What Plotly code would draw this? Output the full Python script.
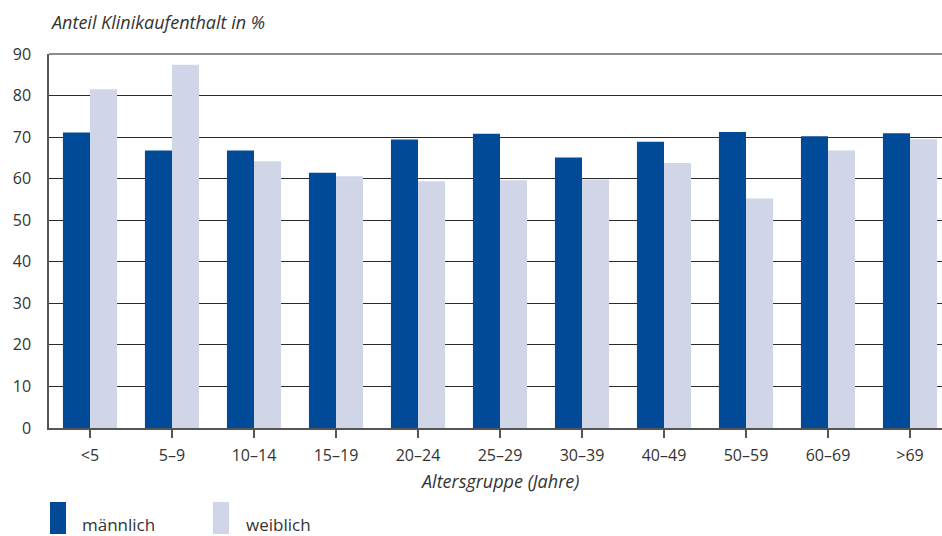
import plotly.graph_objects as go

categories = ["<5", "5–9", "10–14", "15–19", "20–24", "25–29", "30–39", "40–49", "50–59", "60–69", ">69"]
maennlich = [71.1, 66.8, 66.8, 61.4, 69.4, 70.8, 65.1, 68.9, 71.2, 70.2, 70.9]
weiblich = [81.5, 87.4, 64.2, 60.6, 59.4, 59.6, 59.8, 63.8, 55.2, 66.8, 69.5]
y_ticks = [0, 10, 20, 30, 40, 50, 60, 70, 80, 90]

COL_M = "#004A97"
COL_W = "#D0D5E8"
TXT = "#333333"
FONT = "Open Sans"

W, H = 942, 536
L, R, T, B = 49, 0, 54, 108
pw, ph = W - L - R, H - T - B

def px(x):
    return (x - L) / pw

def py(y):
    return (H - B - y) / ph

x_idx = list(range(len(categories)))

fig = go.Figure()
fig.add_trace(go.Bar(x=x_idx, y=maennlich, name="männlich", marker=dict(color=COL_M, line=dict(width=0)), showlegend=False))
fig.add_trace(go.Bar(x=x_idx, y=weiblich, name="weiblich", marker=dict(color=COL_W, line=dict(width=0)), showlegend=False))

cat_px = 82
fig.update_layout(
    width=W, height=H,
    margin=dict(l=L, r=R, t=T, b=B),
    paper_bgcolor="white", plot_bgcolor="white",
    barmode="group", bargap=0.34, bargroupgap=0,
    font=dict(family=FONT, color=TXT, size=15),
    xaxis=dict(
        range=[-0.5, -0.5 + pw / cat_px],
        tickmode="array", tickvals=x_idx, ticktext=categories,
        tickson="boundaries", ticks="outside", ticklen=8, tickcolor="#555555", tickwidth=1.5,
        showline=True, linecolor="#555555", linewidth=1.5,
        showgrid=False, zeroline=False,
        tickfont=dict(size=16, color=TXT),
        ticklabelstandoff=4,
    ),
    yaxis=dict(
        range=[0, 90],
        tickmode="array", tickvals=y_ticks,
        showline=True, linecolor="#555555", linewidth=1.5,
        showgrid=True, gridcolor="#2a2a2a", gridwidth=1,
        zeroline=False, ticks="",
        tickfont=dict(size=16, color=TXT),
        ticklabelstandoff=13,
    ),
    shapes=[
        dict(type="line", xref="paper", yref="paper", x0=0, x1=1, y0=1, y1=1,
             line=dict(color="#666666", width=1.5)),
        dict(type="rect", xref="paper", yref="paper", x0=px(50), x1=px(66), y0=py(502), y1=py(534),
             fillcolor=COL_M, line=dict(width=0)),
        dict(type="rect", xref="paper", yref="paper", x0=px(213), x1=px(229), y0=py(502), y1=py(534),
             fillcolor=COL_W, line=dict(width=0)),
    ],
    annotations=[
        dict(text="<i>Anteil Klinikaufenthalt in %</i>", xref="paper", yref="paper",
             x=px(48), y=py(22), xanchor="left", yanchor="middle", showarrow=False,
             font=dict(size=18, color=TXT)),
        dict(text="<i>Altersgruppe (Jahre)</i>", xref="paper", yref="paper",
             x=px(499), y=py(481), xanchor="center", yanchor="middle", showarrow=False,
             font=dict(size=18, color=TXT)),
        dict(text="männlich", xref="paper", yref="paper",
             x=px(80), y=py(524), xanchor="left", yanchor="middle", showarrow=False,
             font=dict(size=17, color=TXT)),
        dict(text="weiblich", xref="paper", yref="paper",
             x=px(244), y=py(524), xanchor="left", yanchor="middle", showarrow=False,
             font=dict(size=17, color=TXT)),
    ],
)

fig.write_html("out.html", config={"displayModeBar": False},
               post_script="document.body.style.margin='0';document.body.style.overflow='hidden';")
